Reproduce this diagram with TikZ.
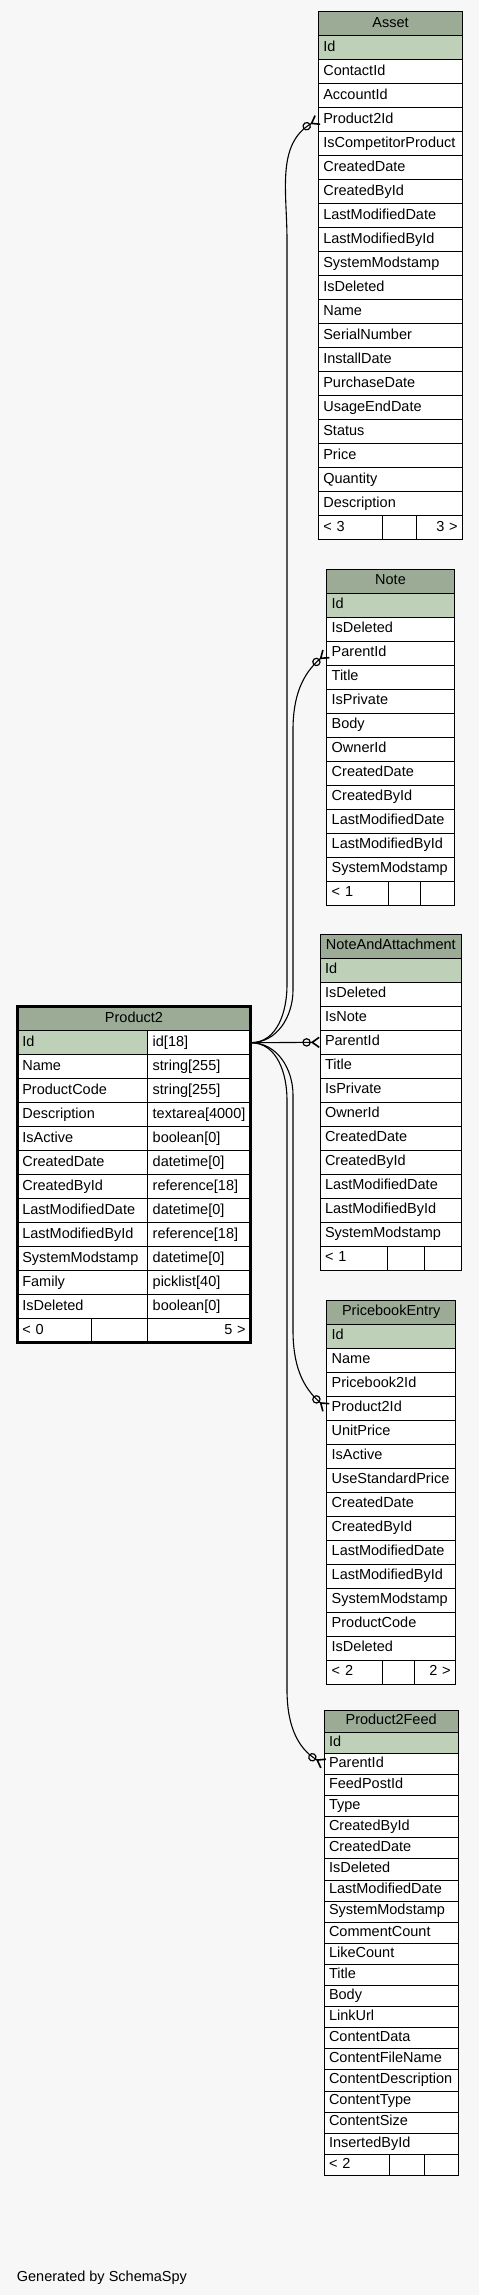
\documentclass[tikz,border=0pt]{standalone}
\usepackage{fontspec}
\setmainfont{Liberation Sans}
\usepackage{tikz}
\usetikzlibrary{arrows.meta}
\definecolor{pagebg}{HTML}{F7F7F7}
\definecolor{headgreen}{HTML}{9BAB96}
\definecolor{keygreen}{HTML}{BED1B8}
\tikzset{
  field/.style={draw=black,fill=white,line width=1pt,anchor=north west,inner xsep=5pt,inner ysep=0pt,outer sep=0pt,
    minimum height=24pt,text height=10pt,text depth=3pt,align=left,font=\fontsize{14.5}{16}\selectfont},
  keyfield/.style={field,fill=keygreen},
  tablehead/.style={field,fill=headgreen,align=center},
  footright/.style={field,align=right},
  feedfield/.style={field,minimum height=21.1pt,text height=9.5pt,text depth=3pt},
  relation/.style={line width=1.1pt,-{Circle[open,length=8.5pt,width=8.5pt,line width=1.2pt] Straight Barb[reversed,length=7pt,width=10pt,line width=1.6pt]}}
}

\begin{document}
\begin{tikzpicture}[x=1pt,y=1pt]
  \useasboundingbox (0,0) rectangle (479,-2295);
  \fill[pagebg] (0,0) rectangle (479,-2295);

  % Asset
  \node[tablehead,text width=134.4pt] (asset) at (318.3,-11.5) {Asset};
  \node[keyfield,text width=134.4pt] (asset-1) at (318.3,-35.5) {Id};
  \foreach \f [count=\i from 2] in {ContactId,AccountId,Product2Id,IsCompetitorProduct,CreatedDate,CreatedById,
      LastModifiedDate,LastModifiedById,SystemModstamp,IsDeleted,Name,SerialNumber,InstallDate,PurchaseDate,
      UsageEndDate,Status,Price,Quantity,Description}
    \node[field,text width=134.4pt] (asset-\i) at (318.3,{-35.5-(\i-1)*24}) {\f};
  \node[field,text width=54pt] (asset-foot1) at (318.3,-515.5) {< 3};
  \node[field,text width=23.7pt] (asset-foot2) at (382.3,-515.5) {};
  \node[footright,text width=36.7pt] (asset-foot3) at (416,-515.5) {3 >};

  % Note
  \node[tablehead,text width=117.6pt] (note) at (326.7,-569.3) {Note};
  \node[keyfield,text width=117.6pt] (note-1) at (326.7,-593.3) {Id};
  \foreach \f [count=\i from 2] in {IsDeleted,ParentId,Title,IsPrivate,Body,OwnerId,CreatedDate,CreatedById,
      LastModifiedDate,LastModifiedById,SystemModstamp}
    \node[field,text width=117.6pt] (note-\i) at (326.7,{-593.3-(\i-1)*24}) {\f};
  \node[field,text width=51.3pt] (note-foot1) at (326.7,-881.3) {< 1};
  \node[field,text width=22pt] (note-foot2) at (388,-881.3) {};
  \node[field,text width=24.3pt] (note-foot3) at (420,-881.3) {};

  % NoteAndAttachment
  \node[tablehead,text width=131.7pt] (naa) at (320,-934.3) {NoteAndAttachment};
  \node[keyfield,text width=131.7pt] (naa-1) at (320,-958.3) {Id};
  \foreach \f [count=\i from 2] in {IsDeleted,IsNote,ParentId,Title,IsPrivate,OwnerId,CreatedDate,CreatedById,
      LastModifiedDate,LastModifiedById,SystemModstamp}
    \node[field,text width=131.7pt] (naa-\i) at (320,{-958.3-(\i-1)*24}) {\f};
  \node[field,text width=57.7pt] (naa-foot1) at (320,-1246.3) {< 1};
  \node[field,text width=26.3pt] (naa-foot2) at (387.7,-1246.3) {};
  \node[field,text width=27.7pt] (naa-foot3) at (424,-1246.3) {};

  % PricebookEntry
  \node[tablehead,text width=119pt] (pbe) at (326.7,-1300) {PricebookEntry};
  \node[keyfield,text width=119pt] (pbe-1) at (326.7,-1324) {Id};
  \foreach \f [count=\i from 2] in {Name,Pricebook2Id,Product2Id,UnitPrice,IsActive,UseStandardPrice,CreatedDate,
      CreatedById,LastModifiedDate,LastModifiedById,SystemModstamp,ProductCode,IsDeleted}
    \node[field,text width=119pt] (pbe-\i) at (326.7,{-1324-(\i-1)*24}) {\f};
  \node[field,text width=45.6pt] (pbe-foot1) at (326.7,-1660) {< 2};
  \node[field,text width=21.7pt] (pbe-foot2) at (382.3,-1660) {};
  \node[footright,text width=31.7pt] (pbe-foot3) at (414,-1660) {2 >};

  % Product2Feed
  \node[tablehead,minimum height=22.3pt,text width=124.3pt] (feed) at (324,-1710) {Product2Feed};
  \node[keyfield,feedfield,fill=keygreen,text width=124.3pt] (feed-1) at (324,-1732.3) {Id};
  \foreach \f [count=\i from 2] in {ParentId,FeedPostId,Type,CreatedById,CreatedDate,IsDeleted,LastModifiedDate,
      SystemModstamp,CommentCount,LikeCount,Title,Body,LinkUrl,ContentData,ContentFileName,ContentDescription,
      ContentType,ContentSize,InsertedById}
    \node[feedfield,text width=124.3pt] (feed-\i) at (324,{-1732.3-(\i-1)*21.1}) {\f};
  \node[feedfield,text width=55pt] (feed-foot1) at (324,-2154.3) {< 2};
  \node[feedfield,text width=25pt] (feed-foot2) at (389,-2154.3) {};
  \node[feedfield,text width=24.3pt] (feed-foot3) at (424,-2154.3) {};

  % Product2
  \node[tablehead,text width=223.4pt] (p2) at (17.3,-1006.7) {Product2};
  \node[keyfield,text width=120.4pt] (p2-1) at (17.3,-1030.7) {Id};
  \node[field,text width=93pt] (p2t-1) at (147.7,-1030.7) {id[18]};
  \foreach \f/\t [count=\i from 2] in {Name/string[255],ProductCode/string[255],Description/textarea[4000],
      IsActive/boolean[0],CreatedDate/datetime[0],CreatedById/reference[18],LastModifiedDate/datetime[0],
      LastModifiedById/reference[18],SystemModstamp/datetime[0],Family/picklist[40],IsDeleted/boolean[0]}
  {
    \node[field,text width=120.4pt] (p2-\i) at (17.3,{-1030.7-(\i-1)*24}) {\f};
    \node[field,text width=93pt] (p2t-\i) at (147.7,{-1030.7-(\i-1)*24}) {\t};
  }
  \node[field,text width=63.7pt] (p2-foot1) at (17.3,-1318.7) {< 0};
  \node[field,text width=46.7pt] (p2-foot2) at (91,-1318.7) {};
  \node[footright,text width=93pt] (p2-foot3) at (147.7,-1318.7) {5 >};
  \draw[line width=3pt] (p2.north west) rectangle (p2-foot3.south east);

  % relations
  \draw[relation] (p2t-1.east) to[out=0,in=-90] (287,-985) -- (287,-240) to[out=90,in=-150] (asset-4.west);
  \draw[relation] (p2t-1.east) to[out=0,in=-90] (293,-990) -- (293,-730) to[out=90,in=-140] (note-3.west);
  \draw[relation] (p2t-1.east) -- (naa-4.west);
  \draw[relation] (p2t-1.east) to[out=0,in=90] (293,-1095) -- (293,-1330) to[out=-90,in=140] (pbe-4.west);
  \draw[relation] (p2t-1.east) to[out=0,in=90] (287,-1100) -- (287,-1690) to[out=-90,in=150] (feed-2.west);

  \node[anchor=base west,inner sep=0pt,font=\fontsize{14.5}{16}\selectfont] (credit) at (16.7,-2281) {Generated by SchemaSpy};
\end{tikzpicture}
\end{document}
